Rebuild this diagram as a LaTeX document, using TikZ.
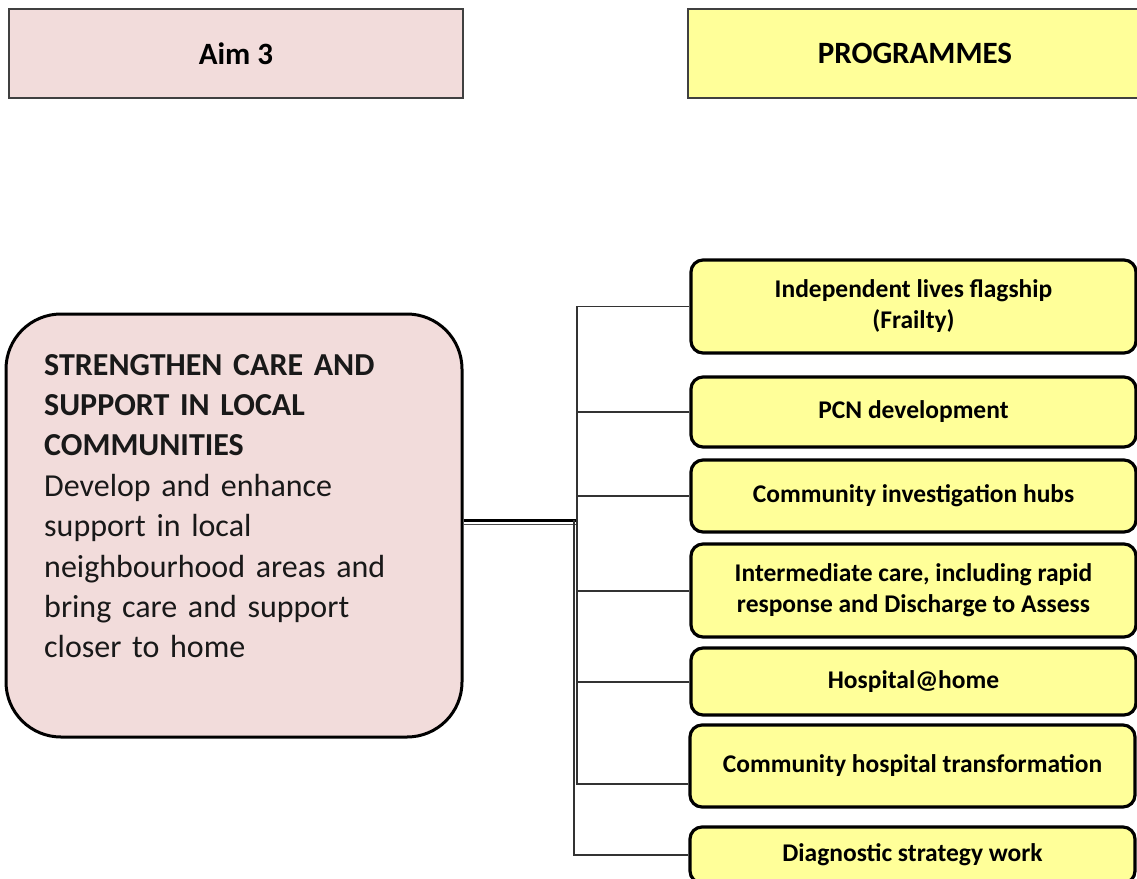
\documentclass[tikz,border=0pt]{standalone}
\usepackage{fontspec}
\setmainfont{Carlito}
\definecolor{AimPink}{HTML}{F2DCDB}
\definecolor{ProgYellow}{HTML}{FFFF99}
\definecolor{HeadGray}{HTML}{404040}
\usetikzlibrary{positioning}

\begin{document}
\begin{tikzpicture}[x=1pt, y=-1pt,
   headbox/.style={draw=HeadGray, line width=1.3pt, minimum width=454pt,
      minimum height=89pt, inner sep=0pt,
      font=\bfseries\fontsize{31}{36}\selectfont},
   progbox/.style={draw=black, line width=3.2pt, fill=ProgYellow,
      rounded corners=12pt, minimum width=445pt, inner sep=0pt,
      align=center, font=\bfseries\fontsize{25.5}{31}\selectfont},
   link/.style={draw=black!80, line width=1.1pt}]
   \useasboundingbox (0,0) rectangle (1137,878);
   % Headers
   \node[headbox, fill=AimPink] (aimhead) at (236,53.5) {Aim 3};
   \node[headbox, fill=ProgYellow] (proghead) at (915,53.5) {PROGRAMMES};
   % Aim box
   \node[draw=black, line width=3pt, fill=AimPink, rounded corners=55pt,
      minimum width=456pt, minimum height=423pt] (aimbox) at (234,525.5) {};
   \node[anchor=north west, inner sep=0pt, align=left, text width=410pt,
      font=\fontsize{32}{40.4}\selectfont, text=black!90] (aimtext) at (44,354)
      {\textbf{STRENGTHEN CARE AND}\\ \textbf{SUPPORT IN LOCAL}\\
       \textbf{COMMUNITIES}\\ Develop and enhance\\ support in local\\
       neighbourhood areas and\\ bring care and support\\ closer to home};
   % Programmes
   \node[progbox, minimum height=93pt] (frailty) at (913.5,306.5)
      {Independent lives flagship\\(Frailty)};
   \node[progbox, minimum height=70pt] (pcn) at (913.5,412) {PCN development};
   \node[progbox, minimum height=72pt] (hubs) at (913.5,496)
      {Community investigation hubs};
   \node[progbox, minimum height=93pt] (intercare) at (913.5,590.5)
      {Intermediate care, including rapid\\response and Discharge to Assess};
   \node[progbox, minimum height=67pt] (hathome) at (913.5,681.5) {Hospital@home};
   \node[progbox, minimum height=82pt] (commhosp) at (912.5,766)
      {Community hospital transformation};
   \node[progbox, minimum height=56pt] (diagnostic) at (912.5,855)
      {Diagnostic strategy work};
   % Connectors
   \coordinate (hub) at (577,520);
   \draw[black, line width=3pt] (aimbox.east |- hub) -- (hub);
   \draw[black!70, line width=1pt] ([yshift=-4pt]aimbox.east |- hub) -- ([yshift=-4pt]hub);
   \draw[link] (hub) |- (frailty.west);
   \draw[link] (hub) |- (pcn.west);
   \draw[link] (hub) |- (hubs.west);
   \draw[link, line width=2pt] (hub) |- (intercare.west);
   \draw[link, line width=2pt] (hub) |- (hathome.west);
   \draw[link, line width=2pt] (hub) |- ([yshift=-18pt]commhosp.west);
   \draw[link] ([xshift=-3pt]hub) |- (diagnostic.west);
\end{tikzpicture}
\end{document}
